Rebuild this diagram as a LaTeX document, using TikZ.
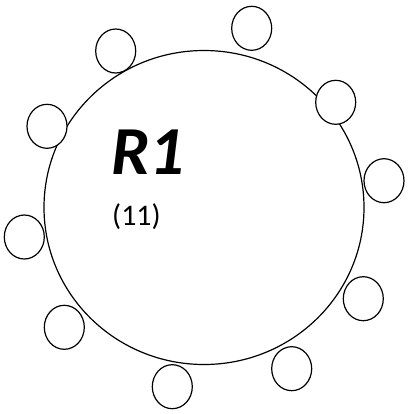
\documentclass[tikz,border=0pt]{standalone}
\usepackage{fontspec}
\setmainfont{Carlito}
\usepackage{tikz}
\usetikzlibrary{shapes.geometric}

\begin{document}
\begin{tikzpicture}[x=1bp, y=-1bp,
      room/.style={draw, ellipse, line width=1.2pt, minimum width=320bp, minimum height=314bp, inner sep=0pt},
      seat/.style={draw, ellipse, fill=white, line width=1.2pt, minimum width=40bp, minimum height=44bp, inner sep=0pt},
      roomtag/.style={font=\fontsize{69}{72}\selectfont\bfseries\itshape, anchor=base west, inner sep=0pt},
      seatcount/.style={font=\fontsize{30}{33}\selectfont, anchor=base west, inner sep=0pt}
  ]
    \useasboundingbox (0,0) rectangle (417,414);
    \node[room] (r1) at (204,207.5) {};
    \node[roomtag] (lbl) at (111,174) {R1};
    \node[seatcount] (num) at (112,225) {(11)};
    \node[seat] (s1) at (115.7,51) {};
    \node[seat] (s2) at (251.7,28.3) {};
    \node[seat] (s3) at (335.7,102.3) {};
    \node[seat] (s4) at (384,180.7) {};
    \node[seat] (s5) at (363.3,298.7) {};
    \node[seat] (s6) at (291.7,368.7) {};
    \node[seat] (s7) at (172.3,386.7) {};
    \node[seat] (s8) at (64.3,327.3) {};
    \node[seat] (s9) at (24.3,237) {};
    \node[seat] (s10) at (47,126.3) {};
  \end{tikzpicture}
\end{document}
